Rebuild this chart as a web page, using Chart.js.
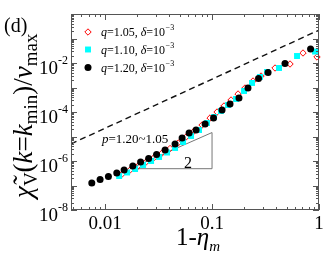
<!DOCTYPE html>
<html><head><meta charset="utf-8">
<script src="https://cdn.jsdelivr.net/npm/chart.js@4"></script>
<style>html,body{margin:0;padding:0;background:#fff;}canvas{display:block;}</style>
</head><body>
<canvas id="c" width="332" height="257"></canvas>
<script>
// ---- data ----
const xQ105 = [0.01442,0.01713,0.02034,0.02417,0.02871,0.03410,0.04051,0.04811,0.05715,0.06789,0.08061,0.09579,0.1114,0.1294,0.1505,0.1750,0.2034,0.2417,0.2871,0.3880,0.5358,0.7087,0.9579];
const yQ105 = [2.94e-7,4.30e-7,6.25e-7,9.1e-7,1.39e-6,2.12e-6,3.24e-6,5.43e-6,9.55e-6,1.67e-5,2.94e-5,5.69e-5,1.0e-4,1.76e-4,3.09e-4,5.43e-4,9.55e-4,1.84e-3,2.94e-3,6.25e-3,9.1e-3,2.56e-2,1.76e-2];
const xQ110 = [0.01352,0.01606,0.01907,0.02265,0.02692,0.03197,0.03797,0.04511,0.05358,0.06366,0.07561,0.08981,0.1044,0.1214,0.1411,0.1676,0.1991,0.2365,0.2810,0.3266,0.4228,0.6230,0.9176];
const yQ110 = [2.44e-7,3.40e-7,4.71e-7,6.87e-7,1.0e-6,1.46e-6,2.22e-6,3.40e-6,5.97e-6,1.05e-5,1.84e-5,3.56e-5,6.25e-5,1.10e-4,1.93e-4,3.40e-4,7.2e-4,1.53e-3,2.69e-3,4.30e-3,6.25e-3,1.93e-2,2.94e-2];
const xQ120 = [0.00751,0.00898,0.01074,0.01286,0.01506,0.01816,0.02148,0.02553,0.03030,0.03638,0.0451,0.0525,0.0610,0.0709,0.0861,0.1033,0.1240,0.1472,0.1786,0.2168,0.272,0.334,0.481,0.834];
const yQ120 = [1.26e-7,1.76e-7,2.33e-7,3.24e-7,4.30e-7,6.25e-7,9.1e-7,1.26e-6,1.84e-6,2.81e-6,4.94e-6,8.7e-6,1.39e-5,1.84e-5,3.24e-5,5.69e-5,1.21e-4,2.12e-4,3.72e-4,9.55e-4,2.33e-3,4.09e-3,9.55e-3,3.72e-2];
const guideX = [0.0048, 1];
const guideY = [5.0e-6, 0.22];
const triX = [0.0171, 0.1, 0.1, 0.0171];
const triY = [4.85e-7, 4.85e-7, 1.45e-5, 4.85e-7];
const seriesNames = ['q=1.05', 'q=1.10', 'q=1.20'];
const deltaExp = '-3';
const xTickValues = [0.01, 0.1, 1];
const xTickLabels = ['0.01', '0.1', '1'];
const yTickValues = [1e-8, 1e-6, 1e-4, 1e-2];
const yTickExponents = ['-8', '-6', '-4', '-2'];
const slopeLabel = 'p=1.20~1.05';
const slopeValue = '2';
const panelLabel = '(d)';
// ---------------------------------------

const pts = (xs, ys) => xs.map((x, i) => ({x: x, y: ys[i]}));
const SERIF = '"Liberation Serif","DejaVu Serif",serif';

const decor = {
  id: 'decor',
  afterDraw(chart) {
    const ctx = chart.ctx, xs = chart.scales.x, ys = chart.scales.y, a = chart.chartArea;
    ctx.save();
    // frame
    ctx.strokeStyle = '#555'; ctx.lineWidth = 1;
    ctx.strokeRect(a.left + 0.5, a.top + 0.5, a.right - a.left - 1, a.bottom - a.top - 1);
    // ticks
    ctx.beginPath();
    for (let e = -3; e <= 0; e++) {
      for (let m = 1; m <= 9; m++) {
        const v = m * Math.pow(10, e);
        if (v < xs.min || v > xs.max) continue;
        const px = Math.round(xs.getPixelForValue(v)) + 0.5;
        const L = m === 1 ? 6 : 3;
        ctx.moveTo(px, a.bottom); ctx.lineTo(px, a.bottom - L);
        ctx.moveTo(px, a.top); ctx.lineTo(px, a.top + L);
      }
    }
    for (let e = -8; e <= 0; e++) {
      for (let m = 1; m <= 9; m++) {
        const v = m * Math.pow(10, e);
        if (v < ys.min || v > ys.max) continue;
        const py = Math.round(ys.getPixelForValue(v)) + 0.5;
        const L = m === 1 ? 6 : 3;
        ctx.moveTo(a.left, py); ctx.lineTo(a.left + L, py);
        ctx.moveTo(a.right, py); ctx.lineTo(a.right - L, py);
      }
    }
    ctx.stroke();
    ctx.fillStyle = '#000';
    // x tick labels
    ctx.font = '19px ' + SERIF; ctx.textAlign = 'center'; ctx.textBaseline = 'alphabetic';
    xTickValues.forEach((v, i) => {
      ctx.fillText(xTickLabels[i], xs.getPixelForValue(v), 229);
    });
    // y tick labels
    yTickValues.forEach((v, i) => {
      const py = ys.getPixelForValue(v);
      ctx.font = '12px ' + SERIF; ctx.textAlign = 'right';
      const sw = ctx.measureText(yTickExponents[i]).width;
      ctx.fillText(yTickExponents[i], 68, py + 1);
      ctx.font = '19px ' + SERIF;
      ctx.fillText('10', 68 - sw, py + 11);
    });
    // panel label
    ctx.textAlign = 'left';
    ctx.font = '20px ' + SERIF;
    ctx.fillText(panelLabel, 4, 32);
    // x title
    ctx.font = '25px ' + SERIF;
    ctx.fillText('1-', 176, 245);
    let w = ctx.measureText('1-').width;
    ctx.font = 'italic 25px ' + SERIF;
    ctx.fillText('\u03B7', 176 + w, 245);
    w += ctx.measureText('\u03B7').width;
    ctx.font = 'italic 15px ' + SERIF;
    ctx.fillText('m', 176 + w, 251);
    // y title (rotated)
    ctx.save();
    ctx.translate(32, 198);
    ctx.rotate(-Math.PI / 2);
    const parts = [
      ['\u03C7\u0303', 'italic 27px', 0],
      ['V', '19px', 5],
      ['(', '27px', 0],
      ['k', 'italic 27px', 0],
      ['=', '27px', 0],
      ['k', 'italic 27px', 0],
      ['min', '19px', 5],
      [')/', '27px', 0],
      ['v', 'italic 27px', 0],
      ['max', '19px', 5]
    ];
    let cx = 0;
    parts.forEach(p => {
      ctx.font = p[1] + ' ' + SERIF;
      ctx.fillText(p[0], cx, p[2]);
      cx += ctx.measureText(p[0]).width;
    });
    ctx.restore();
    // slope annotation
    ctx.font = 'italic 13px ' + SERIF;
    ctx.fillText('p', 102, 143);
    let pw = ctx.measureText('p').width;
    ctx.font = '13px ' + SERIF;
    ctx.fillText(slopeLabel.slice(1), 102 + pw, 143);
    ctx.font = '16px ' + SERIF; ctx.textAlign = 'center';
    ctx.fillText(slopeValue, 188, 168);
    // legend
    const ly = [32, 49.5, 67.5];
    const styles = [
      {pointStyle: 'rectRot', radius: 3.2, borderWidth: 1, borderColor: '#ff0000', backgroundColor: 'rgba(0,0,0,0)'},
      {pointStyle: 'rect', radius: 4.2, borderWidth: 0, borderColor: '#00ffff', backgroundColor: '#00ffff'},
      {pointStyle: 'circle', radius: 3.5, borderWidth: 0, borderColor: '#000', backgroundColor: '#000'}
    ];
    ctx.textAlign = 'left'; ctx.textBaseline = 'middle';
    seriesNames.forEach((nm, i) => {
      ctx.fillStyle = styles[i].backgroundColor; ctx.strokeStyle = styles[i].borderColor; ctx.lineWidth = styles[i].borderWidth || 0.001;
      Chart.helpers.drawPoint(ctx, styles[i], 88, ly[i]);
      ctx.fillStyle = '#000';
      let x0 = 101, y0 = ly[i] + 1;
      ctx.font = 'italic 12px ' + SERIF; ctx.fillText('q', x0, y0); x0 += ctx.measureText('q').width;
      ctx.font = '12px ' + SERIF; const t = nm.slice(1) + ', '; ctx.fillText(t, x0, y0); x0 += ctx.measureText(t).width;
      ctx.font = 'italic 12px ' + SERIF; ctx.fillText('\u03B4', x0, y0); x0 += ctx.measureText('\u03B4').width;
      ctx.font = '12px ' + SERIF; ctx.fillText('=10', x0, y0); x0 += ctx.measureText('=10').width;
      ctx.font = '8px ' + SERIF; ctx.fillText('\u2212' + deltaExp.slice(1), x0 + 0.5, y0 - 5);
    });
    ctx.restore();
  }
};

new Chart(document.getElementById('c'), {
  type: 'scatter',
  data: {
    datasets: [
      {label: seriesNames[2], data: pts(xQ120, yQ120), pointStyle: 'circle', pointRadius: 3.5, pointBorderWidth: 0, backgroundColor: '#000', borderColor: '#000', order: 0, clip: false},
      {label: seriesNames[1], data: pts(xQ110, yQ110), pointStyle: 'rect', pointRadius: 4.2, pointBorderWidth: 0, backgroundColor: '#00ffff', borderColor: '#00ffff', order: 1, clip: false},
      {label: seriesNames[0], data: pts(xQ105, yQ105), pointStyle: 'rectRot', pointRadius: 3.2, pointBorderWidth: 1, backgroundColor: 'rgba(0,0,0,0)', borderColor: '#ff0000', order: 2, clip: false},
      {label: 'guide', data: pts(guideX, guideY), showLine: true, pointRadius: 0, borderColor: '#111', borderWidth: 1.4, borderDash: [6, 4], order: 3},
      {label: 'triangle', data: pts(triX, triY), showLine: true, pointRadius: 0, borderColor: '#777', borderWidth: 1, order: 4}
    ]
  },
  options: {
    responsive: false, animation: false, devicePixelRatio: 1,
    layout: {padding: {left: 71, right: 13, top: 14, bottom: 47}},
    plugins: {legend: {display: false}, tooltip: {enabled: false}},
    scales: {
      x: {type: 'logarithmic', min: 0.0048, max: 1, display: false},
      y: {type: 'logarithmic', min: 1e-8, max: 1, display: false}
    }
  },
  plugins: [decor]
});
</script>
</body></html>
